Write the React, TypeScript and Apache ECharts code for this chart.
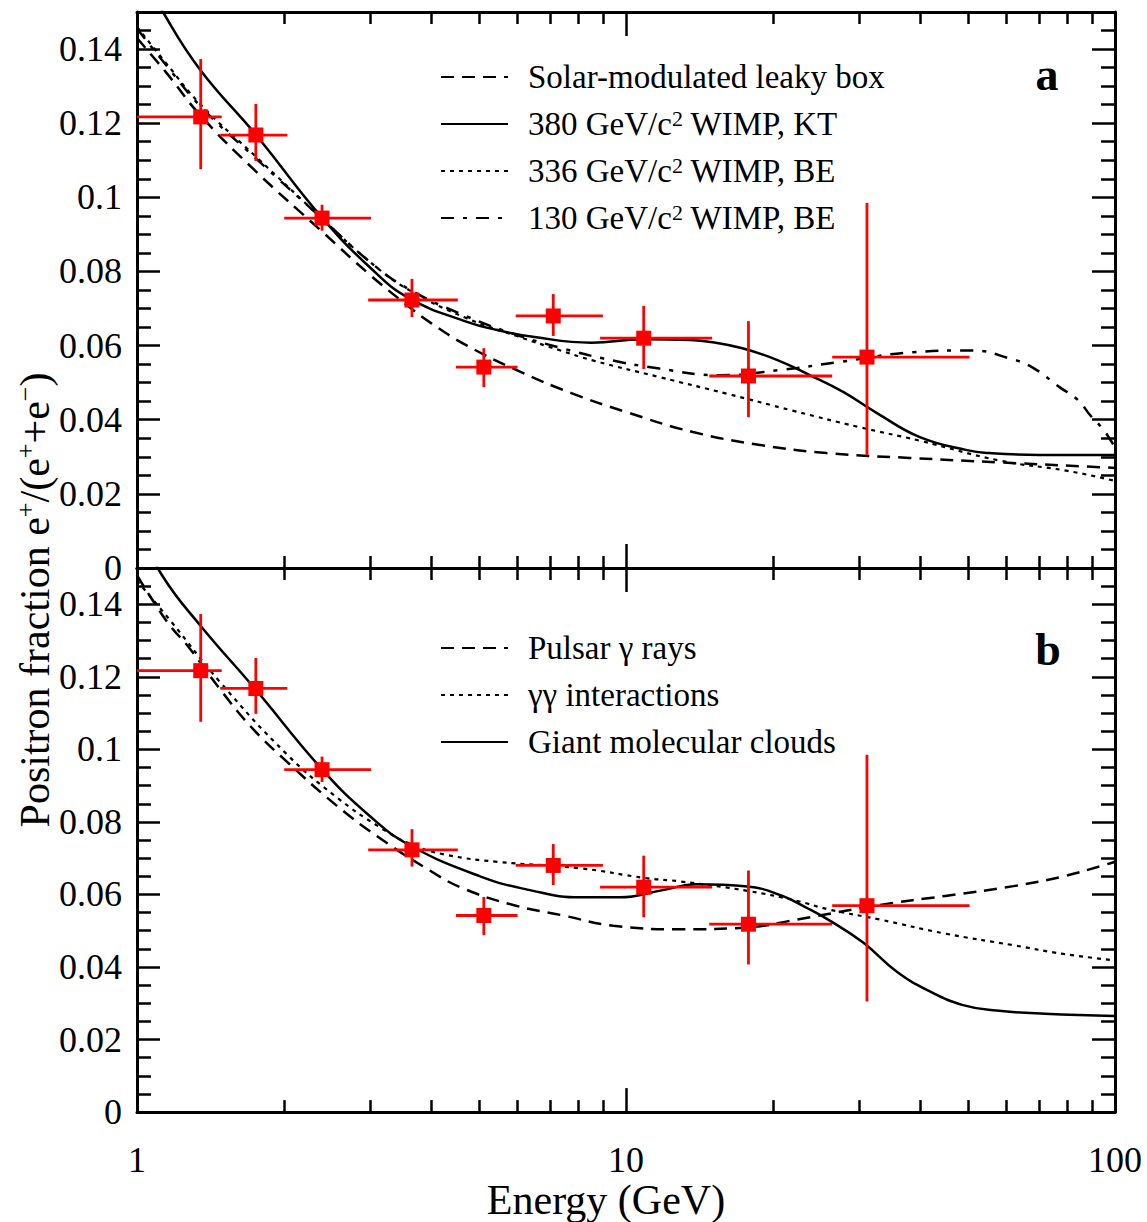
import React, { useEffect, useRef } from "react";
import * as echarts from "echarts";

const FONT = "Liberation Serif";

// Axis tick values
const xMajorTicks = [1, 10, 100];
const xMinorTicks = [2, 3, 4, 5, 6, 7, 8, 9, 20, 30, 40, 50, 60, 70, 80, 90];
const yMinorTicks = [
  0.005, 0.01, 0.015, 0.025, 0.03, 0.035, 0.045, 0.05, 0.055, 0.065, 0.07, 0.075,
  0.085, 0.09, 0.095, 0.105, 0.11, 0.115, 0.125, 0.13, 0.135, 0.145,
];

// Measured data points (same in both panels)
const pointE = [1.35, 1.75, 2.39, 3.65, 5.12, 7.1, 10.87, 17.8, 31.1];
const pointELow = [1.0, 1.48, 2.0, 2.97, 4.49, 5.95, 8.85, 14.8, 26.4];
const pointEHigh = [1.49, 2.03, 3.01, 4.53, 6.0, 8.97, 15.0, 26.4, 50.4];
const pointY = [0.1217, 0.1168, 0.0944, 0.0723, 0.0542, 0.068, 0.062, 0.0518, 0.0569];
const pointYLow = [0.1076, 0.1098, 0.091, 0.0677, 0.0488, 0.0626, 0.0537, 0.0407, 0.0305];
const pointYHigh = [0.1373, 0.1252, 0.098, 0.078, 0.0593, 0.0739, 0.0707, 0.0666, 0.0985];

// Panel a curves
const leakyBox = [
  [1.0, 0.143], [1.15, 0.1335], [1.35, 0.122], [1.75, 0.107], [2.38, 0.091], [3.0, 0.079],
  [3.6, 0.0705], [4.0, 0.066], [4.73, 0.06], [6.07, 0.053], [7.73, 0.0472], [10.0, 0.0421],
  [13.7, 0.0367], [18.8, 0.0332], [25.7, 0.031], [38, 0.0297], [58, 0.0285], [93, 0.0272], [100, 0.027],
];
const wimp380KT = [
  [1.0, 0.163], [1.13, 0.15], [1.345, 0.1345], [1.76, 0.1165], [2.38, 0.0948],
  [3.0, 0.081], [3.6, 0.0728], [4.73, 0.0664], [5.45, 0.0642], [6.5, 0.0623], [8.5, 0.0608],
  [10.8, 0.0617], [13.5, 0.0615], [14.9, 0.061], [17.3, 0.0593], [20.4, 0.0561], [23.8, 0.052],
  [27.8, 0.0475], [32.6, 0.0418], [39.9, 0.0353], [49.8, 0.0318], [55.5, 0.031], [70, 0.0305], [100, 0.0305],
];
const wimp336BE = [
  [1.0, 0.146], [1.15, 0.136], [1.35, 0.125], [1.75, 0.111], [2.38, 0.0945], [3.0, 0.0825],
  [3.6, 0.075], [4.7, 0.0675], [6.0, 0.0625], [7.3, 0.0588], [8.55, 0.056], [11.7, 0.0515],
  [16.1, 0.047], [22, 0.0424], [30, 0.038], [40, 0.0343], [58, 0.029], [80, 0.0262], [100, 0.0235],
];
const wimp130BE = [
  [1.0, 0.1455], [1.15, 0.1355], [1.35, 0.1245], [1.75, 0.1105], [2.38, 0.0945], [3.0, 0.0825],
  [3.6, 0.0752], [4.7, 0.068], [6.0, 0.0628], [7.3, 0.0595], [9.0, 0.0565], [11.7, 0.0538],
  [15.5, 0.052], [20.6, 0.0534], [27.4, 0.0556], [38.6, 0.0582], [51, 0.0587], [61, 0.0565],
  [68, 0.054], [77, 0.0488], [84, 0.0453], [89, 0.0412], [94, 0.0378], [98.5, 0.034], [100, 0.0325],
];

// Panel b curves
const pulsarGamma = [
  [1.0, 0.148], [1.06, 0.1425], [1.17, 0.134], [1.27, 0.1285], [1.48, 0.1165], [1.73, 0.1055],
  [2.03, 0.0965], [2.56, 0.0845], [3.14, 0.0755], [3.97, 0.0666], [4.64, 0.0617], [5.88, 0.0571],
  [7.44, 0.0542], [9.42, 0.0514], [12.9, 0.0504], [17.7, 0.0509], [22.4, 0.0531], [33, 0.0571],
  [45, 0.0596], [62, 0.0623], [78.5, 0.065], [94.5, 0.068], [100, 0.069],
];
const gammaGamma = [
  [1.0, 0.1465], [1.17, 0.1355], [1.48, 0.1185], [2.03, 0.0985], [2.56, 0.0868], [3.14, 0.0785],
  [3.67, 0.0736], [4.3, 0.0709], [5.45, 0.069], [8.07, 0.0672], [11, 0.0645], [12.9, 0.0636],
  [17.7, 0.061], [22.4, 0.0582], [26.1, 0.0558], [33, 0.0531], [45, 0.0492], [62, 0.046],
  [78.5, 0.0436], [100, 0.0418],
];
const giantClouds = [
  [1.0, 0.162], [1.125, 0.148], [1.35, 0.134], [1.74, 0.1168], [2.39, 0.0945], [3.0, 0.0815],
  [3.62, 0.0735], [5.03, 0.065], [6.36, 0.0612], [8.07, 0.0592], [9.7, 0.0592], [11.9, 0.0612],
  [13.9, 0.0628], [17.7, 0.0622], [20.7, 0.0598], [23.5, 0.0562], [26.1, 0.0528], [30.5, 0.0468],
  [35.8, 0.0387], [41.8, 0.0333], [48.9, 0.0295], [57.2, 0.028], [72, 0.0271], [100, 0.0265],
];

const namesA = [
  "Solar-modulated leaky box",
  "380 GeV/c2 WIMP, KT",
  "336 GeV/c2 WIMP, BE",
  "130 GeV/c2 WIMP, BE",
];
const namesB = ["Pulsar γ rays", "γγ interactions", "Giant molecular clouds"];

const DASHED = [13, 8];
const DOTTED = [4, 5];
const DASHDOT = [13, 9, 4, 9];

function legendFormatter(name: string) {
  if (name.indexOf("GeV/c2") >= 0) {
    const parts = name.split("GeV/c2");
    return "{n|" + parts[0] + "GeV/c}{s|2}{n|" + parts[1] + "}";
  }
  return "{n|" + name + "}";
}

function lineSeries(name: string, data: number[][], g: number, type: any, width = 2.5) {
  return {
    type: "line",
    name,
    data,
    xAxisIndex: g * 4,
    yAxisIndex: g * 4,
    showSymbol: false,
    symbol: "none",
    smooth: 0.45,
    clip: true,
    silent: true,
    z: 3,
    lineStyle: { color: "#000", width, type },
    itemStyle: { color: "#000" },
  };
}

function errorSeries(g: number) {
  return {
    type: "custom",
    name: "data" + g,
    xAxisIndex: g * 4,
    yAxisIndex: g * 4,
    z: 5,
    silent: true,
    encode: { x: 0, y: 1 },
    data: pointE.map((e, i) => [e, pointY[i], pointELow[i], pointEHigh[i], pointYLow[i], pointYHigh[i]]),
    renderItem: (params: any, api: any) => {
      const e = api.value(0), y = api.value(1);
      const c = api.coord([e, y]);
      const l = api.coord([api.value(2), y]);
      const r = api.coord([api.value(3), y]);
      const b = api.coord([e, api.value(4)]);
      const t = api.coord([e, api.value(5)]);
      const st = { stroke: "#ff0000", lineWidth: 2.8 };
      return {
        type: "group",
        children: [
          { type: "line", shape: { x1: l[0], y1: l[1], x2: r[0], y2: r[1] }, style: st },
          { type: "line", shape: { x1: b[0], y1: b[1], x2: t[0], y2: t[1] }, style: st },
          { type: "rect", shape: { x: c[0] - 7.5, y: c[1] - 7.5, width: 15, height: 15 }, style: { fill: "#ff0000" } },
        ],
      };
    },
  };
}

function xAxesFor(g: number) {
  const black = { color: "#000", width: 3 };
  const base = {
    gridIndex: g,
    splitLine: { show: false },
  };
  return [
    {
      ...base,
      type: "log",
      logBase: 10,
      min: xMajorTicks[0],
      max: xMajorTicks[xMajorTicks.length - 1],
      position: "bottom",
      axisLine: { show: true, onZero: false, lineStyle: black },
      axisTick: { show: true, inside: true, length: 24, lineStyle: { color: "#000", width: 2.5 } },
      axisLabel: {
        show: g === 1,
        margin: 30,
        color: "#000",
        fontFamily: FONT,
        fontSize: 36,
        formatter: (v: number) => String(Math.round(v)),
      },
      name: g === 1 ? "Energy (GeV)" : "",
      nameLocation: "middle",
      nameGap: 58,
      nameTextStyle: { color: "#000", fontFamily: FONT, fontSize: 42, padding: [0, 40, 0, 0] },
    },
    {
      ...base,
      type: "log",
      logBase: 10,
      min: xMajorTicks[0],
      max: xMajorTicks[xMajorTicks.length - 1],
      position: "top",
      axisLine: { show: true, onZero: false, lineStyle: black },
      axisTick: { show: true, inside: true, length: 24, lineStyle: { color: "#000", width: 2.5 } },
      axisLabel: { show: false },
    },
    {
      ...base,
      type: "value",
      min: 0,
      max: 2,
      position: "bottom",
      axisLine: { show: false, onZero: false },
      axisTick: {
        show: true,
        inside: true,
        length: 12,
        customValues: xMinorTicks.map((v) => Math.log10(v)),
        lineStyle: { color: "#000", width: 2.5 },
      },
      axisLabel: { show: false },
    },
    {
      ...base,
      type: "value",
      min: 0,
      max: 2,
      position: "top",
      axisLine: { show: false, onZero: false },
      axisTick: {
        show: true,
        inside: true,
        length: 12,
        customValues: xMinorTicks.map((v) => Math.log10(v)),
        lineStyle: { color: "#000", width: 2.5 },
      },
      axisLabel: { show: false },
    },
  ];
}

function yAxesFor(g: number) {
  const black = { color: "#000", width: 3 };
  const base = { gridIndex: g, type: "value", min: 0, max: 0.15, splitLine: { show: false } };
  const fmt = (v: number) => (v > 0.1455 ? "" : v === 0 ? "0" : String(+v.toFixed(2)));
  return [
    {
      ...base,
      interval: 0.02,
      position: "left",
      axisLine: { show: true, onZero: false, lineStyle: black },
      axisTick: { show: true, inside: true, length: 23, lineStyle: { color: "#000", width: 2.5 } },
      axisLabel: { show: true, margin: 15, color: "#000", fontFamily: FONT, fontSize: 36, formatter: fmt },
    },
    {
      ...base,
      interval: 0.02,
      position: "right",
      axisLine: { show: true, onZero: false, lineStyle: black },
      axisTick: { show: true, inside: true, length: 23, lineStyle: { color: "#000", width: 2.5 } },
      axisLabel: { show: false },
    },
    {
      ...base,
      position: "left",
      axisLine: { show: false, onZero: false },
      axisTick: { show: true, inside: true, length: 14, customValues: yMinorTicks, lineStyle: { color: "#000", width: 2.5 } },
      axisLabel: { show: false },
    },
    {
      ...base,
      position: "right",
      axisLine: { show: false, onZero: false },
      axisTick: { show: true, inside: true, length: 14, customValues: yMinorTicks, lineStyle: { color: "#000", width: 2.5 } },
      axisLabel: { show: false },
    },
  ];
}

function legendFor(names: string[], top: number) {
  return {
    data: names,
    left: 440,
    top,
    orient: "vertical",
    itemWidth: 67,
    itemHeight: 14,
    itemGap: 13,
    padding: 0,
    selectedMode: false,
    itemStyle: { opacity: 0 },
    formatter: legendFormatter,
    textStyle: {
      color: "#000",
      fontFamily: FONT,
      fontSize: 33,
      lineHeight: 34,
      padding: [0, 0, 0, 15],
      rich: {
        n: { fontFamily: FONT, fontSize: 33, color: "#000", lineHeight: 34 },
        s: { fontFamily: FONT, fontSize: 22, color: "#000", verticalAlign: "top", lineHeight: 22 },
      },
    },
  };
}

export default function App() {
  const ref = useRef<HTMLDivElement>(null);
  useEffect(() => {
    if (!ref.current) return;
    const chart = echarts.init(ref.current, null, { renderer: "svg" });
    const option: any = {
      animation: false,
      backgroundColor: "#fff",
      grid: [
        { left: 137, right: 32, top: 12, height: 556 },
        { left: 137, right: 32, top: 568, height: 555 },
      ],
      xAxis: [...xAxesFor(0), ...xAxesFor(1)],
      yAxis: [...yAxesFor(0), ...yAxesFor(1)],
      legend: [legendFor(namesA, 60), legendFor(namesB, 631)],
      series: [
        lineSeries(namesA[0], leakyBox, 0, DASHED),
        lineSeries(namesA[1], wimp380KT, 0, "solid"),
        lineSeries(namesA[2], wimp336BE, 0, DOTTED, 2.2),
        lineSeries(namesA[3], wimp130BE, 0, DASHDOT),
        errorSeries(0),
        lineSeries(namesB[0], pulsarGamma, 1, DASHED),
        lineSeries(namesB[1], gammaGamma, 1, DOTTED, 2.2),
        lineSeries(namesB[2], giantClouds, 1, "solid"),
        errorSeries(1),
      ],
      graphic: [
        {
          type: "text",
          x: 35,
          y: 600,
          rotation: Math.PI / 2,
          style: {
            text: "{n|Positron fraction e}{s|+}{n|/(e}{s|+}{n|+e}{s|−}{n|)}",
            align: "center",
            verticalAlign: "middle",
            fill: "#000",
            rich: {
              n: { fontFamily: FONT, fontSize: 42, fill: "#000", lineHeight: 46 },
              s: { fontFamily: FONT, fontSize: 26, fill: "#000", verticalAlign: "top", lineHeight: 26 },
            },
          },
        },
        {
          type: "text",
          x: 1047,
          y: 74,
          style: { text: "a", fontFamily: FONT, fontSize: 46, fontWeight: "bold", fill: "#000", align: "center", verticalAlign: "middle" },
        },
        {
          type: "text",
          x: 1048,
          y: 649,
          style: { text: "b", fontFamily: FONT, fontSize: 46, fontWeight: "bold", fill: "#000", align: "center", verticalAlign: "middle" },
        },
      ],
    };
    chart.setOption(option);
    return () => chart.dispose();
  }, []);
  return (
    <div
      ref={ref}
      style={{ position: "fixed", left: 0, top: 0, width: 1147, height: 1222, background: "#fff" }}
    />
  );
}
